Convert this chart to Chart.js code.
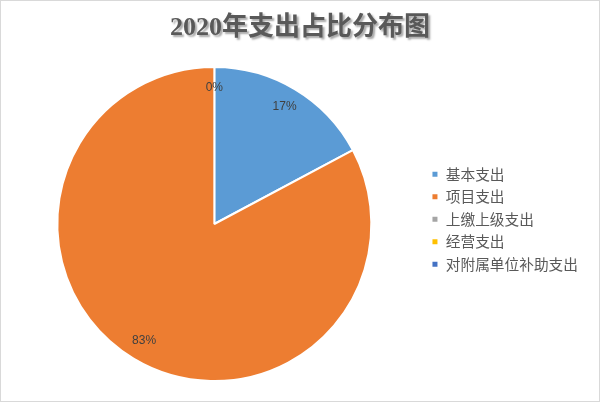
<!DOCTYPE html>
<html>
<head>
<meta charset="utf-8">
<script src="https://cdn.jsdelivr.net/npm/chart.js@4.4.0/dist/chart.umd.min.js"></script>
<style>
  html, body { margin: 0; padding: 0; background: #fff; }
  #wrap { width: 600px; height: 402px; box-sizing: border-box; border: 1px solid #d9d9d9; }
</style>
</head>
<body>
<div id="wrap"><canvas id="myChart"></canvas></div>
<script>
const chartTitle = "2020年支出占比分布图";
const categories = ["基本支出", "项目支出", "上缴上级支出", "经营支出", "对附属单位补助支出"];
const shares = [17.2, 82.8, 0, 0, 0];
const colors = ["#5B9BD5", "#ED7D31", "#A5A5A5", "#FFC000", "#4472C4"];

// title with a soft drop shadow, like the office chart
const shadowTitle = {
  id: "shadowTitle",
  afterDraw(chart) {
    const ctx = chart.ctx;
    ctx.save();
    ctx.font = "bold 26px 'Liberation Serif', 'Noto Sans CJK SC'";
    ctx.fillStyle = "#595959";
    ctx.textAlign = "center";
    ctx.textBaseline = "middle";
    ctx.shadowColor = "rgba(0, 0, 0, 0.35)";
    ctx.shadowOffsetX = 2;
    ctx.shadowOffsetY = 2;
    ctx.shadowBlur = 2;
    ctx.fillText(chartTitle, chart.width / 2, 27);
    ctx.restore();
  },
};

// percentage labels inside the slices
const sliceLabels = {
  id: "sliceLabels",
  afterDatasetsDraw(chart) {
    const ctx = chart.ctx;
    const meta = chart.getDatasetMeta(0);
    const values = chart.data.datasets[0].data;
    const total = values.reduce((a, b) => a + b, 0);
    const seen = new Set();
    ctx.save();
    ctx.font = "12px 'Liberation Sans', 'Noto Sans'";
    ctx.fillStyle = "#404040";
    ctx.textAlign = "center";
    ctx.textBaseline = "middle";
    meta.data.forEach((arc, i) => {
      const p = arc.getProps(["x", "y", "startAngle", "endAngle", "outerRadius"], true);
      const mid = (p.startAngle + p.endAngle) / 2;
      const r = p.outerRadius * 0.87;
      const lx = p.x + Math.cos(mid) * r;
      const ly = p.y + Math.sin(mid) * r;
      const key = Math.round(lx) + "," + Math.round(ly);
      if (seen.has(key)) return;
      seen.add(key);
      ctx.fillText(Math.round((values[i] / total) * 100) + "%", lx, ly);
    });
    ctx.restore();
  },
};

const ctx = document.getElementById("myChart").getContext("2d");
const chart = new Chart(ctx, {
  type: "pie",
  data: {
    labels: categories,
    datasets: [
      {
        data: shares,
        backgroundColor: colors,
        borderColor: "#ffffff",
        borderWidth: 2,
        hoverOffset: 0,
      },
    ],
  },
  options: {
    responsive: true,
    maintainAspectRatio: false,
    animation: false,
    events: [],
    radius: 157,
    layout: { padding: { top: 64, bottom: 18, left: 4, right: 11 } },
    plugins: {
      tooltip: { enabled: false },
      legend: {
        position: "right",
        align: "start",
        title: { display: true, text: "", padding: { top: 94, bottom: 0 }, font: { lineHeight: 0 } },
        labels: {
          boxWidth: 7,
          boxHeight: 7,
          padding: 7.8,
          color: "#595959",
          font: { family: "'Noto Sans CJK SC'", size: 14.7 },
        },
      },
    },
  },
  plugins: [shadowTitle, sliceLabels],
});
</script>
</body>
</html>
